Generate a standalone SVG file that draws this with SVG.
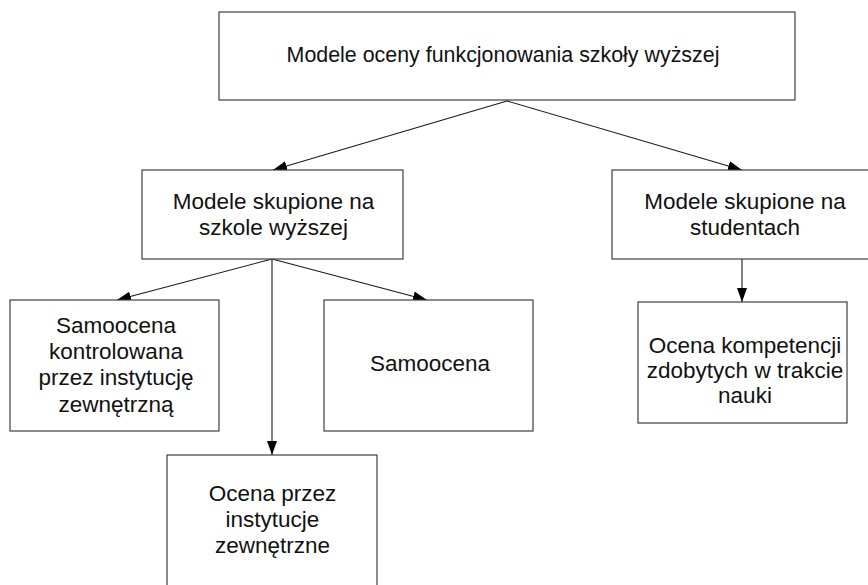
<svg xmlns="http://www.w3.org/2000/svg" width="868" height="585" viewBox="0 0 868 585">
  <style>
    .box { fill: #ffffff; stroke: #404040; stroke-width: 1.2; }
    .link { fill: none; stroke: #1a1a1a; stroke-width: 1.1; }
    text { font-family: "Liberation Sans", Arial, sans-serif; fill: #111111; text-anchor: middle; }
    .t1 { font-size: 21.4px; }
    .t2 { font-size: 22.5px; }
  </style>
  <defs>
    <marker id="arrow" viewBox="0 0 14 10" refX="14" refY="5" markerWidth="14" markerHeight="10" markerUnits="userSpaceOnUse" orient="auto">
      <path d="M0,0 L14,5 L0,10 Z" fill="#000000"/>
    </marker>
  </defs>
  <rect width="868" height="585" fill="#ffffff"/>

  <g id="connectors">
    <path class="link" d="M507,101 L273,170" marker-end="url(#arrow)"/>
    <path class="link" d="M507,101 L742,170" marker-end="url(#arrow)"/>
    <path class="link" d="M272,259 L117,300" marker-end="url(#arrow)"/>
    <path class="link" d="M272,259 L427,300" marker-end="url(#arrow)"/>
    <path class="link" d="M272,259 L272,455" marker-end="url(#arrow)"/>
    <path class="link" d="M742,259 L742,302" marker-end="url(#arrow)"/>
  </g>

  <g id="root">
    <rect class="box" x="219" y="12" width="576" height="88"/>
    <text class="t1" x="503" y="62">Modele oceny funkcjonowania szkoły wyższej</text>
  </g>

  <g id="school-models">
    <rect class="box" x="142" y="170" width="261" height="89"/>
    <text class="t2" x="273.5" y="209">Modele skupione na</text>
    <text class="t2" x="273.5" y="234.5">szkole wyższej</text>
  </g>

  <g id="student-models">
    <rect class="box" x="612" y="170" width="266" height="89"/>
    <text class="t2" x="745" y="209">Modele skupione na</text>
    <text class="t2" x="745" y="234.5">studentach</text>
  </g>

  <g id="controlled-self-assessment">
    <rect class="box" x="10" y="300" width="209" height="131"/>
    <text class="t2" x="116" y="333">Samoocena</text>
    <text class="t2" x="116" y="359">kontrolowana</text>
    <text class="t2" x="116" y="385">przez instytucję</text>
    <text class="t2" x="116" y="411.5">zewnętrzną</text>
  </g>

  <g id="self-assessment">
    <rect class="box" x="324" y="300" width="209" height="131"/>
    <text class="t2" x="430" y="371">Samoocena</text>
  </g>

  <g id="external-assessment">
    <rect class="box" x="167" y="455" width="210" height="140"/>
    <text class="t2" x="272.5" y="501">Ocena przez</text>
    <text class="t2" x="272.5" y="527">instytucje</text>
    <text class="t2" x="272.5" y="553">zewnętrzne</text>
  </g>

  <g id="competence-assessment">
    <rect class="box" x="638" y="302" width="209" height="121"/>
    <text class="t2" x="745" y="353">Ocena kompetencji</text>
    <text class="t2" x="745" y="378">zdobytych w trakcie</text>
    <text class="t2" x="745" y="403">nauki</text>
  </g>
</svg>
